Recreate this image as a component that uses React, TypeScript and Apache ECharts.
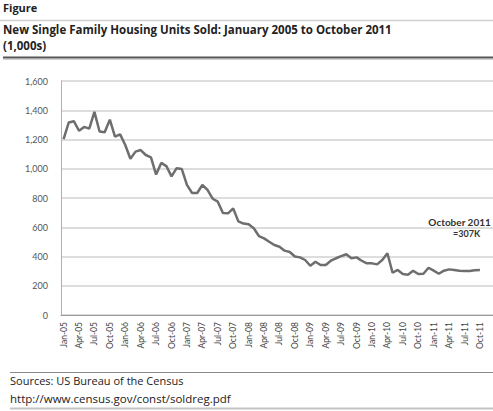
import React, { useEffect, useRef } from "react";
import * as echarts from "echarts";

const MONTHS = ["Jan", "Feb", "Mar", "Apr", "May", "Jun", "Jul", "Aug", "Sep", "Oct", "Nov", "Dec"];
const YEARS = ["05", "06", "07", "08", "09", "10", "11"];

const sold2005 = [1203, 1316, 1325, 1260, 1286, 1274, 1389, 1255, 1250, 1336, 1219, 1235];
const sold2006 = [1162, 1068, 1117, 1128, 1094, 1078, 960, 1040, 1018, 948, 1004, 998];
const sold2007 = [890, 834, 834, 889, 855, 795, 775, 697, 695, 729, 640, 625];
const sold2008 = [620, 593, 540, 524, 501, 479, 467, 440, 431, 400, 394, 376];
const sold2009 = [337, 364, 342, 342, 371, 388, 403, 415, 388, 394, 371, 353];
const sold2010 = [353, 346, 376, 422, 289, 308, 280, 276, 303, 280, 282, 323];
const sold2011 = [303, 282, 303, 312, 308, 303, 301, 301, 306, 307];

const yearSeries = [sold2005, sold2006, sold2007, sold2008, sold2009, sold2010, sold2011];

const Y_MIN = 0;
const Y_MAX = 1600;
const Y_STEP = 200;

const TITLE_LABEL = "Figure";
const TITLE = "New Single Family Housing Units Sold: January 2005 to October 2011";
const SUBTITLE = "(1,000s)";
const SOURCE_1 = "Sources: US Bureau of the Census";
const SOURCE_2 = "http://www.census.gov/const/soldreg.pdf";
const NOTE_1 = "October 2011";
const NOTE_2 = "=307K";

const FONT = "Lato, 'Open Sans', sans-serif";
const TEXT_FONT = "'Open Sans', Lato, sans-serif";

export default function App() {
  const ref = useRef<HTMLDivElement>(null);

  useEffect(() => {
    if (!ref.current) return;
    const chart = echarts.init(ref.current, undefined, { renderer: "svg" });

    const categories: string[] = [];
    const values: number[] = [];
    yearSeries.forEach((arr, yi) => {
      arr.forEach((v, mi) => {
        categories.push(MONTHS[mi] + "-" + YEARS[yi]);
        values.push(v);
      });
    });

    const option: any = {
      animation: false,
      backgroundColor: "#ffffff",
      textStyle: { fontFamily: FONT },
      grid: [
        { left: 61, right: 10.5, top: 81, bottom: 96, containLabel: false },
        { left: 61, right: 0, top: 81, bottom: 96, containLabel: false },
      ],
      xAxis: [
        {
          type: "category",
          gridIndex: 0,
          data: categories,
          boundaryGap: true,
          axisLine: { show: false },
          axisTick: { show: false },
          axisLabel: {
            interval: 2,
            rotate: 90,
            margin: 7,
            fontSize: 8.5,
            color: "#444",
            fontFamily: FONT,
          },
          splitLine: { show: false },
        },
        {
          type: "value",
          gridIndex: 1,
          min: 0,
          max: 1,
          axisLine: { show: true, lineStyle: { color: "#9a9a9a", width: 1 } },
          axisTick: { show: false },
          axisLabel: { show: false },
          splitLine: { show: false },
        },
      ],
      yAxis: [
        {
          type: "value",
          gridIndex: 0,
          min: Y_MIN,
          max: Y_MAX,
          interval: Y_STEP,
          axisLine: { show: true, lineStyle: { color: "#b0b0b0", width: 1 } },
          axisTick: { show: false },
          axisLabel: {
            margin: 13,
            fontSize: 9,
            color: "#555",
            fontFamily: FONT,
            formatter: (v: number) => v.toLocaleString("en-US"),
          },
          splitLine: { show: false },
        },
        {
          type: "value",
          gridIndex: 1,
          min: Y_MIN,
          max: Y_MAX,
          interval: Y_STEP,
          axisLine: { show: false },
          axisTick: { show: false },
          axisLabel: { show: false },
          splitLine: { show: true, lineStyle: { color: "#d2d2d2", width: 1.5 } },
        },
      ],
      series: [
        {
          type: "line",
          xAxisIndex: 0,
          yAxisIndex: 0,
          data: values,
          showSymbol: false,
          symbol: "none",
          lineStyle: { color: "#6e6e6e", width: 2.5 },
          z: 5,
        },
      ],
      graphic: [
        {
          type: "text",
          left: 3,
          top: 2,
          style: { text: TITLE_LABEL, fontSize: 11, fontWeight: "bold", fill: "#222", fontFamily: TEXT_FONT },
        },
        {
          type: "line",
          shape: { x1: 0, y1: 20.5, x2: 493, y2: 20.5 },
          style: { stroke: "#cfcfcf", lineWidth: 1.5 },
        },
        {
          type: "text",
          left: 3,
          top: 23,
          style: { text: TITLE, fontSize: 11.5, fontWeight: "bold", fill: "#222", fontFamily: TEXT_FONT },
        },
        {
          type: "text",
          left: 3,
          top: 39,
          style: { text: SUBTITLE, fontSize: 11.5, fontWeight: "bold", fill: "#222", fontFamily: TEXT_FONT },
        },
        {
          type: "line",
          shape: { x1: 3, y1: 57.5, x2: 493, y2: 57.5 },
          style: { stroke: "#555", lineWidth: 2 },
        },
        {
          type: "line",
          shape: { x1: 3, y1: 59.5, x2: 493, y2: 59.5 },
          style: { stroke: "#cfcfcf", lineWidth: 1 },
        },
        {
          type: "text",
          right: 2,
          top: 217,
          style: { text: NOTE_1, fontSize: 10, fontWeight: "bold", fill: "#333", fontFamily: FONT },
        },
        {
          type: "text",
          left: 453,
          top: 229,
          style: { text: NOTE_2, fontSize: 9, fontWeight: "bold", fill: "#333", fontFamily: FONT },
        },
        {
          type: "line",
          shape: { x1: 10, y1: 372.5, x2: 493, y2: 372.5 },
          style: { stroke: "#8a8a8a", lineWidth: 1 },
        },
        {
          type: "text",
          left: 10,
          top: 375,
          style: { text: SOURCE_1, fontSize: 11, fill: "#222", fontFamily: TEXT_FONT },
        },
        {
          type: "text",
          left: 10,
          top: 392,
          style: { text: SOURCE_2, fontSize: 11.5, fill: "#222", fontFamily: TEXT_FONT },
        },
        {
          type: "line",
          shape: { x1: 10, y1: 408.5, x2: 493, y2: 408.5 },
          style: { stroke: "#c4c4c4", lineWidth: 2 },
        },
      ],
    };

    chart.setOption(option);
    return () => chart.dispose();
  }, []);

  return (
    <div
      ref={ref}
      style={{ position: "absolute", left: 0, top: 0, width: 493, height: 411 }}
    />
  );
}
